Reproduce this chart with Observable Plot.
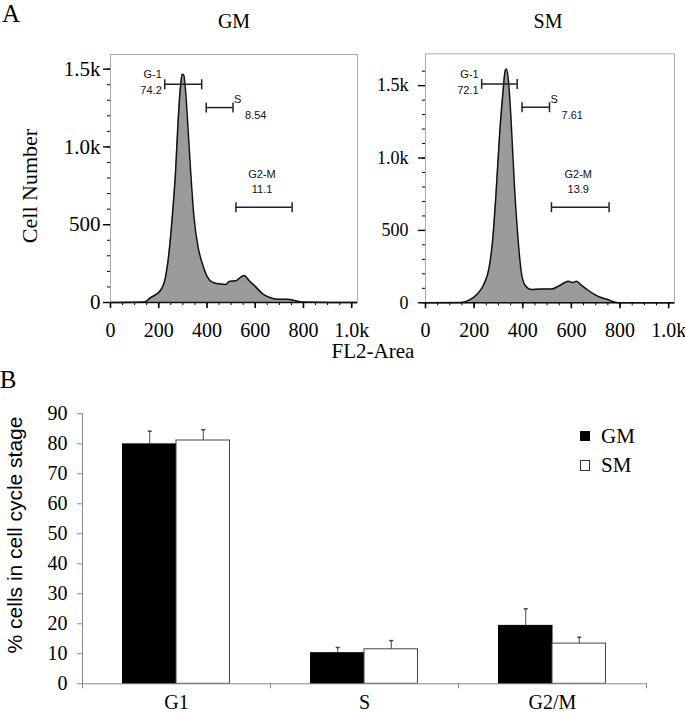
<!DOCTYPE html>
<html><head><meta charset="utf-8">
<script src="https://cdn.jsdelivr.net/npm/d3@7"></script>
<script src="https://cdn.jsdelivr.net/npm/@observablehq/plot@0.6"></script>
<style>
body{margin:0;background:#fff;}
#wrap{position:relative;width:685px;height:713px;overflow:hidden;font-family:"Liberation Serif","Times New Roman",serif;color:#000;background:#fff;}
.abs{position:absolute;white-space:nowrap;line-height:1;}
.c{transform:translate(-50%,-50%);}
.l{transform:translate(0,-50%);}
#wrap svg{position:absolute;overflow:visible;}
</style></head><body>
<div id="wrap">
  <div class="abs c" style="left:11px;top:13px;font-size:25px">A</div>
  <div class="abs c" style="left:234px;top:21px;font-size:20px">GM</div>
  <div class="abs c" style="left:548px;top:21px;font-size:20px">SM</div>
  <div class="abs c" style="left:30px;top:186px;font-size:22px;transform:translate(-50%,-50%) rotate(-90deg)">Cell Number</div>
  <div class="abs c" style="left:373px;top:351px;font-size:21px">FL2-Area</div>
  <div class="abs c" style="left:8px;top:379px;font-size:25px">B</div>
  <div class="abs c" style="left:14px;top:535px;font-size:21px;font-family:'Liberation Sans',Arial,sans-serif;transform:translate(-50%,-50%) rotate(-90deg)">% cells in cell cycle stage</div>
  <div class="abs" style="left:580px;top:431px;width:9.5px;height:9.5px;background:#000"></div>
  <div class="abs l" style="left:601px;top:436px;font-size:21px" id="lg1"></div>
  <div class="abs" style="left:580px;top:460px;width:8px;height:9px;background:#fff;border:1px solid #333"></div>
  <div class="abs l" style="left:601px;top:465px;font-size:21px" id="lg2"></div>
</div>
<script>
// ---------- Panel A: FL2-Area histograms ----------
const gmFL2  = [0, 140, 165, 207, 228, 242, 256, 270, 279, 290, 297, 304, 311, 321, 332, 346, 363, 381, 402, 422, 450, 478, 492, 520, 540, 554, 575, 603, 631, 658, 693, 735, 762, 790, 1024];
const gmCount= [0, 3, 30, 77, 163, 313, 549, 849, 1128, 1386, 1467, 1460, 1364, 1128, 849, 549, 356, 249, 163, 131, 120, 116, 135, 140, 163, 174, 140, 99, 56, 34, 21, 21, 13, 4, 0];
const smFL2  = [0, 145, 179, 214, 241, 262, 276, 290, 304, 318, 328, 333, 341, 352, 366, 380, 393, 410, 435, 476, 518, 545, 573, 587, 607, 621, 642, 670, 698, 725, 752, 773, 794, 1024];
const smCount= [0, 2, 18, 62, 131, 246, 430, 753, 1144, 1443, 1604, 1615, 1535, 1259, 798, 453, 223, 119, 92, 95, 95, 113, 140, 149, 140, 149, 120, 85, 55, 35, 21, 7, 0, 0];

const gateNames = ["G-1", "S", "G2-M"];
const gmGateFrom = [225, 397, 520];
const gmGateTo   = [378, 508, 753];
const gmGateY    = [1403, 1253, 613];
const gmGatePct  = ["74.2", "8.54", "11.1"];
const smGateFrom = [231, 397, 518];
const smGateTo   = [377, 510, 755];
const smGateY    = [1512, 1351, 660];
const smGatePct  = ["72.1", "7.61", "13.9"];

const xMajorTicks = [0, 200, 400, 600, 800, 1000];
const xMinorTicks = d3.range(0, 1001, 50);
const yMajorTicks = [0, 500, 1000, 1500];
const yMinorTicks = d3.range(0, 1601, 100);

// ---------- Panel B: cell cycle percentages ----------
const stages = ["G1", "S", "G2/M"];
const groups = ["GM", "SM"];
const gmPct = [79.8, 10.2, 19.3];
const gmErr = [4.4, 1.9, 5.7];
const smPct = [81.1, 11.5, 13.4];
const smErr = [3.6, 2.9, 2.1];
const pctTicks = d3.range(0, 91, 10);

const sans = "Liberation Sans, Arial, sans-serif";
const fmtK = d => d >= 1000 ? (d / 1000).toFixed(1) + "k" : String(d);
const vbar = {draw(ctx, size) { const r = Math.sqrt(size / Math.PI); ctx.moveTo(0, -r); ctx.lineTo(0, r); }};
const hbar = {draw(ctx, size) { const r = Math.sqrt(size / Math.PI); ctx.moveTo(-r, 0); ctx.lineTo(r, 0); }};

function histogram({fl2, count, yMax, from, to, gy, pct, width, ml, mr, mt, mb, yFont, yPad}) {
  const data = fl2.map((x, i) => ({x, y: count[i]}));
  const gates = gateNames.map((name, i) => ({name, from: from[i], to: to[i], y: gy[i], pct: pct[i]}));
  return Plot.plot({
    width, height: 345, marginLeft: ml, marginRight: mr, marginTop: mt, marginBottom: mb,
    x: {domain: [0, 1024], label: null},
    y: {domain: [0, yMax], label: null},
    style: {fontFamily: "Liberation Serif, Times New Roman, serif", fontSize: "20px", color: "#000", background: "transparent", overflow: "visible"},
    marks: [
      Plot.areaY(data, {x: "x", y: "y", fill: "#9b9b9b", curve: "monotone-x"}),
      Plot.lineY(data, {x: "x", y: "y", stroke: "#111", strokeWidth: 1.5, curve: "monotone-x"}),
      Plot.frame({stroke: "#aaa"}),
      Plot.ruleY([0], {stroke: "#111", strokeWidth: 1.6}),
      Plot.axisX(xMajorTicks, {tickSize: 6, tickPadding: 14, tickFormat: fmtK, label: null, strokeWidth: 1.6}),
      Plot.axisX(xMinorTicks, {tickSize: 3, tickFormat: () => "", label: null}),
      Plot.axisY(yMajorTicks, {tickSize: 7, tickPadding: yPad, tickFormat: fmtK, fontSize: yFont, label: null, strokeWidth: 1.4}),
      Plot.axisY(yMinorTicks.filter(v => v <= yMax), {tickSize: 3, tickFormat: () => "", label: null}),
      Plot.ruleY(gates, {y: "y", x1: "from", x2: "to", stroke: "#222", strokeWidth: 1.5}),
      Plot.dot(gates, {x: "from", y: "y", symbol: vbar, r: 5, fill: "none", stroke: "#222", strokeWidth: 1.5}),
      Plot.dot(gates, {x: "to", y: "y", symbol: vbar, r: 5, fill: "none", stroke: "#222", strokeWidth: 1.5}),
      Plot.text(gates.filter(g => g.name === "G-1"), {x: "from", y: "y", text: d => d.name + "\n" + d.pct,
        textAnchor: "end", dx: -3, dy: -3, lineHeight: 1.4, fontFamily: sans, fontSize: 11, fill: "#111"}),
      Plot.text(gates.filter(g => g.name === "S"), {x: "to", y: "y", text: "name",
        textAnchor: "start", dx: 1, dy: -8, fontFamily: sans, fontSize: 11, fill: "#111"}),
      Plot.text(gates.filter(g => g.name === "S"), {x: "to", y: "y", text: "pct",
        textAnchor: "start", dx: 12, dy: 8, fontFamily: sans, fontSize: 11, fill: "#111"}),
      Plot.text(gates.filter(g => g.name === "G2-M"), {x: d => (d.from + d.to) / 2, y: "y", text: d => d.name + "\n" + d.pct,
        dx: -2, dy: -26.5, lineHeight: 1.36, fontFamily: sans, fontSize: 11, fill: "#111"})
    ]
  });
}

const wrap = document.getElementById("wrap");
function place(svg, left, top) { svg.style.left = left + "px"; svg.style.top = top + "px"; wrap.appendChild(svg); }

place(histogram({fl2: gmFL2, count: gmCount, yMax: 1594, from: gmGateFrom, to: gmGateTo, gy: gmGateY, pct: gmGatePct,
  width: 365, ml: 110, mr: 8, mt: 54, mb: 43, yFont: 21, yPad: 3}), 0, 0);
place(histogram({fl2: smFL2, count: smCount, yMax: 1720, from: smGateFrom, to: smGateTo, gy: smGateY, pct: smGatePct,
  width: 355, ml: 95, mr: 11, mt: 53.3, mb: 42.7, yFont: 18, yPad: 10}), 330, 0);

// bar chart
const bW = 685, bML = 82, bMR = 39;
const bw = (bW - bML - bMR) / stages.length;   // band width
const barW = 53.5;
const gap = bw / 2 - barW;
const rows = [];
stages.forEach((s, i) => {
  rows.push({stage: s, group: groups[0], value: gmPct[i], err: gmErr[i]});
  rows.push({stage: s, group: groups[1], value: smPct[i], err: smErr[i]});
});
const gmRows = rows.filter(r => r.group === "GM");
const smRows = rows.filter(r => r.group === "SM");

const bar = Plot.plot({
  width: bW, height: 318, marginLeft: bML, marginRight: bMR, marginTop: 18.3, marginBottom: 29.7,
  x: {domain: stages, padding: 0, label: null},
  y: {domain: [0, 90], label: null},
  style: {fontFamily: "Liberation Serif, Times New Roman, serif", fontSize: "20px", color: "#000", background: "transparent", overflow: "visible"},
  marks: [
    Plot.barY(gmRows, {x: "stage", y: "value", fill: "#000", stroke: "#000", insetLeft: gap, insetRight: gap + barW}),
    Plot.barY(smRows, {x: "stage", y: "value", fill: "#fff", stroke: "#444", strokeWidth: 1, insetLeft: gap + barW, insetRight: gap}),
    Plot.ruleX(gmRows, {x: "stage", y1: "value", y2: d => d.value + d.err, dx: -barW / 2, stroke: "#444"}),
    Plot.ruleX(smRows, {x: "stage", y1: "value", y2: d => d.value + d.err, dx: barW / 2, stroke: "#444"}),
    Plot.dot(gmRows, {x: "stage", y: d => d.value + d.err, dx: -barW / 2, symbol: hbar, r: 2, fill: "none", stroke: "#444"}),
    Plot.dot(smRows, {x: "stage", y: d => d.value + d.err, dx: barW / 2, symbol: hbar, r: 2, fill: "none", stroke: "#444"}),
    Plot.frame({anchor: "left", stroke: "#888"}),
    Plot.frame({anchor: "bottom", stroke: "#888"}),
    Plot.axisY(pctTicks, {tickSize: 5, tickPadding: 10, stroke: "#888", label: null}),
    Plot.axisX({tickSize: 0, tickPadding: 11, label: null, fontSize: 20}),
    Plot.axisX(stages, {tickSize: 5, tickFormat: () => "", dx: -bw / 2, stroke: "#888", label: null}),
    Plot.axisX([stages[stages.length - 1]], {tickSize: 5, tickFormat: () => "", dx: bw / 2, stroke: "#888", label: null})
  ]
});
place(bar, 0, 395);

document.getElementById("lg1").textContent = groups[0];
document.getElementById("lg2").textContent = groups[1];
</script>
</body></html>
